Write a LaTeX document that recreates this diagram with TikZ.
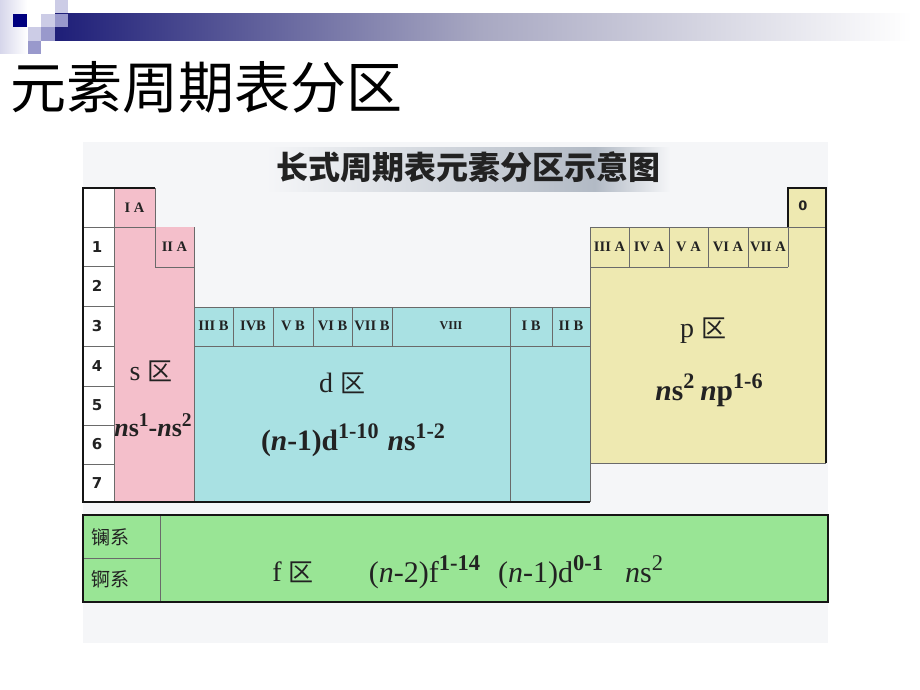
\documentclass[tikz,border=0pt]{standalone}
\usepackage{fontspec}
\usepackage{graphicx}
\setmainfont{Liberation Serif}
\newfontfamily\cjk{Noto Sans CJK SC}
\newfontfamily\numf{DejaVu Sans}
\definecolor{navy}{HTML}{000080}
\definecolor{bardark}{HTML}{1E1E78}
\definecolor{barmid}{HTML}{A8A8C2}
\definecolor{lavA}{HTML}{CCCCE6}
\definecolor{lavB}{HTML}{9999CC}
\definecolor{panel}{HTML}{F5F6F8}
\definecolor{bann}{HTML}{B2BAC5}
\definecolor{spink}{HTML}{F4BFCB}
\definecolor{dcyan}{HTML}{A9E1E3}
\definecolor{pyel}{HTML}{EEE9B1}
\definecolor{fgreen}{HTML}{99E595}
\definecolor{gridc}{HTML}{6A6A6A}
\definecolor{edge}{HTML}{151515}
\definecolor{ink}{HTML}{222222}
\newcommand\up[1]{\raisebox{0.40em}{\scalebox{0.75}{#1}}}
\begin{document}
\begin{tikzpicture}[x=1pt,y=-1pt,
  gline/.style={draw=gridc,line width=1pt},
  frame/.style={draw=edge,line width=2.6pt},
  grp/.style={font=\bfseries\fontsize{14.5}{14.5}\selectfont,text=ink,inner sep=0pt},
  per/.style={font=\numf\bfseries\fontsize{15}{15}\selectfont,text=ink,inner sep=0pt},
  blk/.style={font=\fontsize{28}{30}\selectfont,text=ink,inner sep=0pt},
  cfg/.style={font=\bfseries\fontsize{29.5}{31}\selectfont,text=ink,inner sep=0pt},
  series/.style={font=\cjk\fontsize{19}{19}\selectfont,text=ink,inner sep=0pt}]
\useasboundingbox (0,0) rectangle (920,690);
\fill[white] (0,0) rectangle (920,690);
% decoration
\shade[left color=lavA!80, right color=white] (0,0) rectangle (27,54);
\fill[navy] (13,14) rectangle (27,27);
\fill[lavA] (55,0) rectangle (68,14);
\fill[lavA] (41,14) rectangle (55,27);
\shade[left color=bardark, right color=barmid] (55,14) rectangle (480,41);
\shade[left color=barmid, right color=white] (480,14) rectangle (912,41);
\fill[lavB] (55,14) rectangle (68,27);
\fill[lavA] (28,27) rectangle (41,41);
\fill[lavB] (41,27) rectangle (55,41);
\fill[lavB] (28,41) rectangle (41,54);
% title
\node[anchor=west,font=\cjk\fontsize{56}{60}\selectfont,text=black,inner sep=0pt] (title) at (10,87) {元素周期表分区};
% panel
\fill[panel] (83,142) rectangle (828,643);
\shade[left color=panel, right color=bann] (266,147) rectangle (595,191);
\shade[left color=bann, right color=panel] (595,147) rectangle (670,191);
\node[font=\cjk\bfseries\fontsize{32}{34}\selectfont,text=ink,inner sep=0pt] (subtitle) at (468,167) {长式周期表元素分区示意图};
% block fills
\fill[white] (83,188) rectangle (114,502);
\fill[spink] (114,188) -- (155,188) -- (155,227) -- (194,227) -- (194,502) -- (114,502) -- cycle;
\fill[dcyan] (194,307) rectangle (590,502);
\fill[pyel] (590,227) -- (788,227) -- (788,188) -- (826,188) -- (826,463) -- (590,463) -- cycle;
% grid lines
\foreach \yy in {227,266,306,346,386,425,464} \draw[gline] (83,\yy) -- (114,\yy);
\draw[gline] (114,188) -- (114,502);
\draw[gline] (114,227) -- (155,227);
\draw[gline] (155,188) -- (155,267) -- (194,267);
\draw[gline] (194,227) -- (194,502);
\draw[gline] (194,307) -- (590,307);
\draw[gline] (194,346) -- (590,346);
\foreach \xx in {233,273,313,352,392,552} \draw[gline] (\xx,307) -- (\xx,346);
\draw[gline] (510,307) -- (510,502);
\draw[gline] (590,227) -- (590,502);
\draw[gline] (590,227) -- (826,227);
\draw[gline] (590,267) -- (788,267);
\foreach \xx in {629,669,708,748,788} \draw[gline] (\xx,227) -- (\xx,267);
\draw[gline] (590,463) -- (826,463);
% thick outer borders
\draw[frame] (155,188) -- (83,188) -- (83,502) -- (590,502);
\draw[frame] (788,227) -- (788,188) -- (826,188) -- (826,463);
% period numbers
\node[per] (p1) at (97,247) {1};
\node[per] (p2) at (97,286) {2};
\node[per] (p3) at (97,326) {3};
\node[per] (p4) at (97,366) {4};
\node[per] (p5) at (97,405.5) {5};
\node[per] (p6) at (97,444.5) {6};
\node[per] (p7) at (97,483) {7};
% group labels
\node[grp] (gIA) at (134.5,208) {I A};
\node[grp] (gIIA) at (174.5,247) {II A};
\node[grp] (gIIIB) at (213.5,326) {III B};
\node[grp] (gIVB) at (253,326) {IVB};
\node[grp] (gVB) at (293,326) {V B};
\node[grp] (gVIB) at (332.5,326) {VI B};
\node[grp] (gVIIB) at (372,326) {VII B};
\node[grp,font=\bfseries\fontsize{12}{12}\selectfont] (gVIII) at (451,326) {VIII};
\node[grp] (gIB) at (531,326) {I B};
\node[grp] (gIIB) at (571,326) {II B};
\node[grp] (gIIIA) at (609.5,247) {III A};
\node[grp] (gIVA) at (649,247) {IV A};
\node[grp] (gVA) at (688.5,247) {V A};
\node[grp] (gVIA) at (728,247) {VI A};
\node[grp] (gVIIA) at (768,247) {VII A};
\node[per,font=\numf\bfseries\fontsize{13}{13}\selectfont] (g0) at (803,206) {0};
% block texts
\node[blk] (slab) at (151,371) {s {\cjk\fontsize{25}{25}\selectfont 区}};
\node[cfg,font=\bfseries\fontsize{26}{28}\selectfont] (sconf) at (153,425) {\textit{n}s\up{1}-\textit{n}s\up{2}};
\node[blk] (dlab) at (342,383) {d {\cjk\fontsize{25}{25}\selectfont 区}};
\node[cfg] (dconf) at (353,440) {(\textit{n}-1)d\up{1-10}\hspace{9pt}\textit{n}s\up{1-2}};
\node[blk] (plab) at (703,331) {p {\cjk\fontsize{25}{25}\selectfont 区}};
\node[cfg] (pconf) at (709,390) {\textit{n}s\up{2}\hspace{6pt}\textit{n}p\up{1-6}};
% f block
\fill[fgreen] (83,515) rectangle (828,602);
\draw[gline] (160,515) -- (160,602);
\draw[gline] (83,558) -- (160,558);
\draw[frame] (83,515) rectangle (828,602);
\node[series] (lan) at (110,537) {镧系};
\node[series] (act) at (110,579) {锕系};
\node[blk] (flab) at (293,572) {f {\cjk\fontsize{25}{25}\selectfont 区}};
\node[blk,font=\fontsize{30}{32}\selectfont] (fconf) at (516,572) {(\textit{n}-2)f\up{\bfseries 1-14}\hspace{18pt}(\textit{n}-1)d\up{\bfseries 0-1}\hspace{22pt}\textit{n}s\up{2}};
\end{tikzpicture}
\end{document}
